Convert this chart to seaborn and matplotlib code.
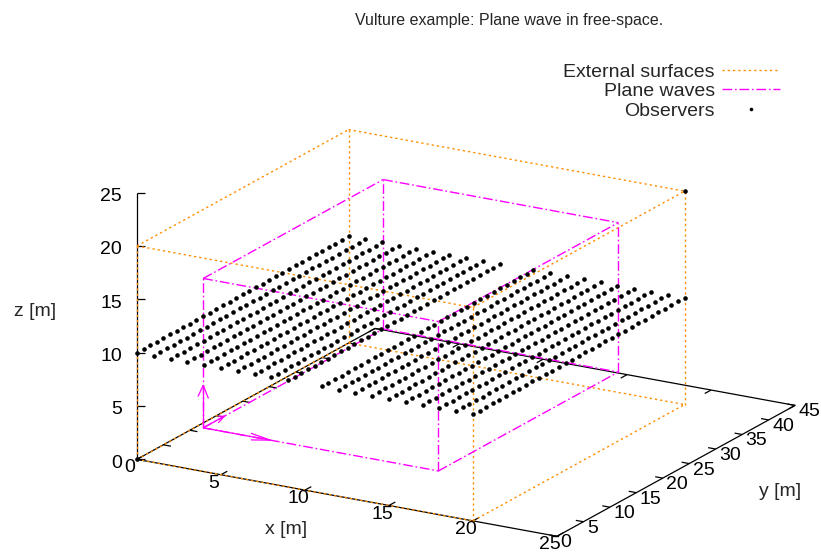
import numpy as np
import matplotlib
matplotlib.use("Agg")
import matplotlib.pyplot as plt
import seaborn as sns
from matplotlib.lines import Line2D
from matplotlib.transforms import offset_copy
from mpl_toolkits.mplot3d import proj3d

# ---------------- data ----------------
title = "Vulture example: Plane wave in free-space."
x_label, y_label, z_label = "x [m]", "y [m]", "z [m]"
x_range = [0, 25]
y_range = [0, 45]
z_range = [0, 25]
x_ticks = [0, 5, 10, 15, 20, 25]
y_ticks = [0, 5, 10, 15, 20, 25, 30, 35, 40, 45]
z_ticks = [0, 5, 10, 15, 20, 25]

# External surfaces (box bounds)
ext_x = [0, 20]
ext_y = [0, 40]
ext_z = [0, 20]
# Plane wave box bounds and direction vectors
pw_x = [3, 17]
pw_y = [3, 37]
pw_z = [3, 17]
pw_origin = [3, 3, 3]
pw_vec_u = [4, 0, 0]
pw_vec_v = [0, 4, 0]
pw_vec_w = [0, 0, 4]
# Observers: plane grid at z = 10 plus two single observers
obs_rows_x = [0, 1, 2, 3, 4, 5, 6, 7, 8, 9, 11, 12, 13, 14, 15, 16, 17, 18, 19, 20]
obs_cols_y = [0, 1.25, 2.5, 3.75, 5, 6.25, 7.5, 8.75, 10, 11.25, 12.5, 13.75,
              15, 16.25, 17.5, 18.75, 20, 21.25, 22.5, 23.75, 25, 26.25, 27.5,
              28.75, 30, 31.25, 32.5, 33.75, 35, 36.25, 37.5, 38.75, 40]
obs_plane_z = 10
obs_single_x = [0, 20]
obs_single_y = [0, 40]
obs_single_z = [0, 20]

legend_labels = ["External surfaces", "Plane waves", "Observers"]

# ---------------- style ----------------
sns.set_theme(style="white")
plt.rcParams['font.family'] = ['Liberation Sans', 'DejaVu Sans']

C_ORANGE = '#ff8c00'
C_MAGENTA = '#ff00ff'
LS_ORANGE = (0, (1.6, 2.2))
LS_MAGENTA = (0, (7, 2, 1.2, 2))
FS = 14
FS_TITLE = 11.5

W, H = 821, 552
fig = plt.figure(figsize=(W / 100, H / 100), dpi=100)
fig.patch.set_facecolor('white')

# square 3D axes sized / placed so that the projected box matches the reference
side = 821.0
cx_px, cy_px = 466.0, 552 - 299.0  # where the box centre projects
off = 0.095 / 0.185 * side
ax = fig.add_axes([(cx_px - off) / W, (cy_px - off) / H, side / W, side / H],
                  projection='3d', proj_type='ortho', computed_zorder=False)
ax.view_init(elev=18.5, azim=-60)
ax.set_xlim(*x_range)
ax.set_ylim(*y_range)
ax.set_zlim(*z_range)
aspect = np.array([1.0, 0.982, 0.58])
base = 1.8294640721620434 * 25 / 24 / np.linalg.norm(aspect)
x_len_px = 420.0
zoom = x_len_px * 1.85 / (np.sin(np.deg2rad(60)) * aspect[0] * base * side)
ax.set_box_aspect(aspect, zoom=zoom)
ax.set_axis_off()
M = ax.get_proj()


def box_edges(bx, by, bz):
    edges = []
    for y in by:
        for z in bz:
            edges.append(([bx[0], bx[1]], [y, y], [z, z]))
    for x in bx:
        for z in bz:
            edges.append(([x, x], [by[0], by[1]], [z, z]))
    for x in bx:
        for y in by:
            edges.append(([x, x], [y, y], [bz[0], bz[1]]))
    return edges


# ---- border (base rectangle + z axis) ----
K = dict(color='black', lw=0.9, solid_capstyle='butt')
bx0, bx1 = x_range
by0, by1 = y_range
ax.plot([bx0, bx1, bx1, bx0, bx0], [by0, by0, by1, by1, by0], [0, 0, 0, 0, 0], **K)
ax.plot([bx0, bx0], [by0, by0], z_range, **K)

# ticks
for xt in x_ticks:
    ax.plot([xt, xt], [by0, by0 + 1.2], [0, 0], **K)
    ax.plot([xt, xt], [by1, by1 - 1.2], [0, 0], **K)
for yt in y_ticks:
    ax.plot([bx1, bx1 - 0.45], [yt, yt], [0, 0], **K)
    ax.plot([bx0, bx0 + 0.45], [yt, yt], [0, 0], **K)
ax.plot([bx0] * len(z_ticks), [by0] * len(z_ticks), z_ticks, ls='none',
        marker=1, ms=6, mew=0.9, color='black')


def tr(dx, dy):
    return offset_copy(ax.transData, fig=fig, x=dx, y=dy, units='dots')


def label3d(x, y, z, s, dx, dy, ha):
    xp, yp, _ = proj3d.proj_transform(x, y, z, M)
    ax.text2D(xp, yp, s, ha=ha, va='baseline', fontsize=FS,
              transform=tr(dx, dy), color='black')


for xt in x_ticks:
    label3d(xt, by0, 0, str(xt), -7, -13, 'center')
for yt in y_ticks:
    label3d(bx1, yt, 0, str(yt), 3.5, -11, 'left')
for zt in z_ticks:
    label3d(bx0, by0, zt, str(zt), -15, -8.5, 'right')

# ---- External surfaces ----
for xs, ys, zs in box_edges(ext_x, ext_y, ext_z):
    ax.plot(xs, ys, zs, color=C_ORANGE, lw=1.0, ls=LS_ORANGE)

# ---- Plane waves ----
for xs, ys, zs in box_edges(pw_x, pw_y, pw_z):
    ax.plot(xs, ys, zs, color=C_MAGENTA, lw=1.0, ls=LS_MAGENTA)
ax.quiver([pw_origin[0]] * 3, [pw_origin[1]] * 3, [pw_origin[2]] * 3,
          [pw_vec_u[0], pw_vec_v[0], pw_vec_w[0]],
          [pw_vec_u[1], pw_vec_v[1], pw_vec_w[1]],
          [pw_vec_u[2], pw_vec_v[2], pw_vec_w[2]],
          color=C_MAGENTA, lw=0.9, arrow_length_ratio=0.3)

# ---- Observers ----
gx, gy = np.meshgrid(obs_rows_x, obs_cols_y, indexing='ij')
gz = np.full(gx.shape, obs_plane_z)
ax.plot(gx.ravel(), gy.ravel(), gz.ravel(), ls='none', marker='o', ms=3.3,
        mew=0, color='black')
ax.plot(obs_single_x, obs_single_y, obs_single_z, ls='none', marker='o', ms=3.3,
        mew=0, color='black')

# ---- texts ----
fig.text(509 / W, 1 - 20 / H, title, ha='center', va='center', fontsize=FS_TITLE)
fig.text(35 / W, 1 - 311 / H, z_label, ha='center', va='center', fontsize=FS)
fig.text(286 / W, 1 - 530 / H, x_label, ha='center', va='center', fontsize=FS)
fig.text(780 / W, 1 - 492 / H, y_label, ha='center', va='center', fontsize=FS)

handles = [Line2D([], [], color=C_ORANGE, lw=1.0, ls=LS_ORANGE),
           Line2D([], [], color=C_MAGENTA, lw=1.0, ls=LS_MAGENTA),
           Line2D([], [], color='black', ls='none', marker='o', ms=2.6, mew=0)]
fig.legend(handles, legend_labels, loc='upper right',
           bbox_to_anchor=(780 / W, 1 - 63 / H), markerfirst=False,
           frameon=False, fontsize=FS, handlelength=3.0, handletextpad=0.36,
           labelspacing=0.1, borderpad=0, borderaxespad=0)

fig.savefig('out.png', dpi=100)
